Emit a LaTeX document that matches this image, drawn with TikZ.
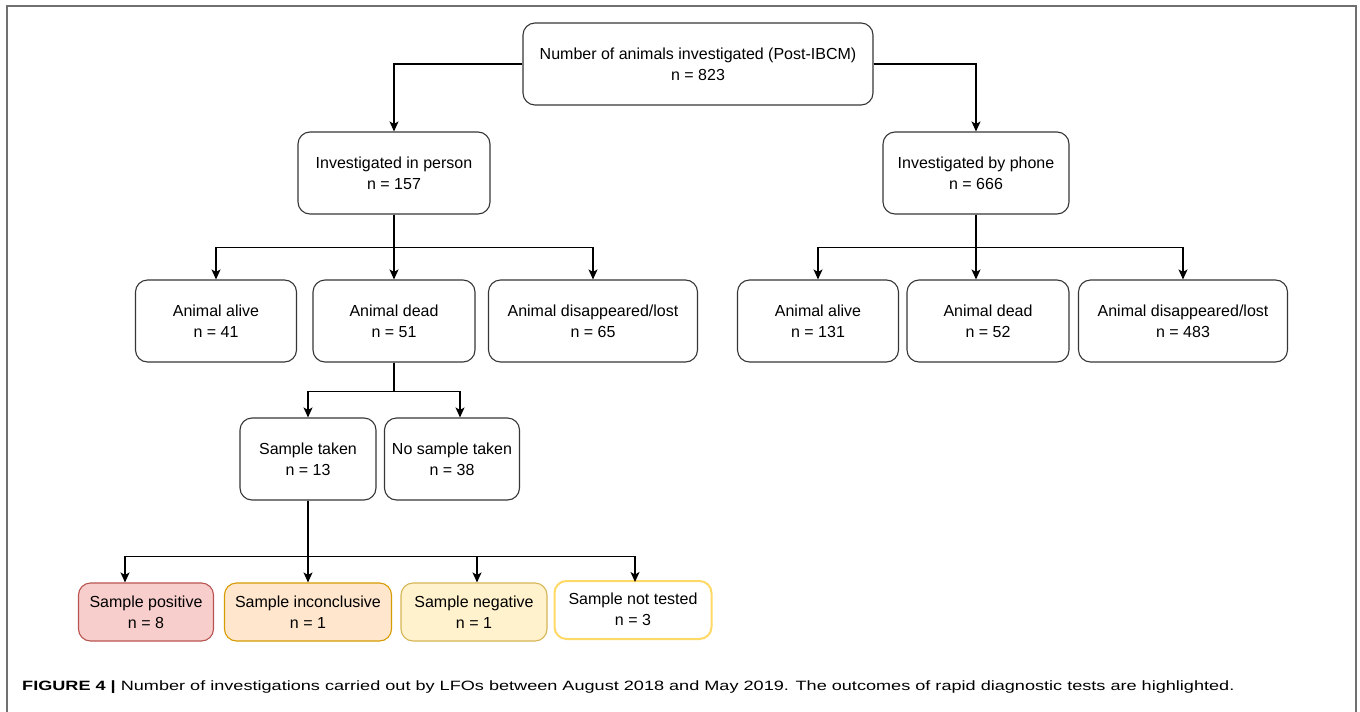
\documentclass[tikz,border=0pt]{standalone}
\usepackage{fontspec}
\setmainfont{Liberation Sans}
\usetikzlibrary{arrows.meta}
\definecolor{posfill}{HTML}{F8CECC}\definecolor{posdraw}{HTML}{B85450}
\definecolor{incfill}{HTML}{FFE6CC}\definecolor{incdraw}{HTML}{D79B00}
\definecolor{negfill}{HTML}{FFF2CC}\definecolor{negdraw}{HTML}{D6B656}
\definecolor{ntdraw}{HTML}{FFD966}
\definecolor{framegray}{HTML}{707070}
\definecolor{boxline}{HTML}{363636}
\begin{document}
\begin{tikzpicture}[x=1pt,y=-1pt,
  box/.style={draw=boxline,line width=1.1pt,rounded corners=12pt,align=center,
    font=\fontsize{16}{21}\selectfont,inner sep=0pt,minimum height=82pt},
  smallbox/.style={box,minimum height=58pt},
  arr/.style={draw=black,line width=1.3pt,-{Stealth[length=10pt,width=9pt,inset=2.5pt]}},
  plain/.style={draw=black,line width=1.3pt}]
\useasboundingbox (0,0) rectangle (1360,712);
\fill[white] (0,0) rectangle (1360,712);
\draw[framegray,line width=2pt] (7,712) -- (7,6) -- (1356,6) -- (1356,712);
% nodes
\node[box,minimum width=350pt] (top) at (698,64) {Number of animals investigated (Post-IBCM)\\n = 823};
\node[box,minimum width=192pt] (inp) at (394,173) {Investigated in person\\n = 157};
\node[box,minimum width=186pt] (ph) at (976,173) {Investigated by phone\\n = 666};
\node[box,minimum width=161pt] (al1) at (216,321) {Animal alive\\n = 41};
\node[box,minimum width=162pt] (de1) at (394,321) {Animal dead\\n = 51};
\node[box,minimum width=209pt] (lo1) at (593,321) {Animal disappeared/lost\\n = 65};
\node[box,minimum width=161pt] (al2) at (818,321) {Animal alive\\n = 131};
\node[box,minimum width=162pt] (de2) at (988,321) {Animal dead\\n = 52};
\node[box,minimum width=209pt] (lo2) at (1183,321) {Animal disappeared/lost\\n = 483};
\node[box,minimum width=136pt] (st) at (308,459) {Sample taken\\n = 13};
\node[box,minimum width=135pt] (ns) at (452,459) {No sample taken\\n = 38};
\node[smallbox,minimum width=135pt,fill=posfill,draw=posdraw] (pos) at (146,612) {Sample positive\\n = 8};
\node[smallbox,minimum width=167pt,fill=incfill,draw=incdraw] (inc) at (308,612) {Sample inconclusive\\n = 1};
\node[smallbox,minimum width=146pt,fill=negfill,draw=negdraw] (neg) at (474,612) {\raisebox{-3pt}{Sample negative}\\\raisebox{-3pt}{n = 1}};
\node[smallbox,minimum width=157pt,draw=ntdraw,line width=2pt] (nt) at (633,610) {\raisebox{2pt}{Sample not tested}\\\raisebox{2pt}{n = 3}};
% connectors
\draw[arr] (top.west) -| (inp.north);
\draw[arr] (top.east) -| (ph.north);
\draw[arr] (inp.south) -- ++(0,33) -| (al1.north);
\draw[arr] (inp.south) -- (de1.north);
\draw[arr] (inp.south) -- ++(0,33) -| (lo1.north);
\draw[arr] (ph.south) -- ++(0,33) -| (al2.north);
\draw[arr] (ph.south) -- (ph.south |- de2.north);
\draw[arr] (ph.south) -- ++(0,33) -| (lo2.north);
\draw[arr] (de1.south) -- ++(0,29) -| (st.north);
\draw[arr] (de1.south) -- ++(0,29) -| ([xshift=8pt]ns.north);
\draw[arr] (st.south) -- ++(0,56) -| ([xshift=-21pt]pos.north);
\draw[arr] (st.south) -- (inc.north);
\draw[arr] (st.south) -- ++(0,56) -| ([xshift=3pt]neg.north);
\draw[arr] (st.south) -- ++(0,56) -| ([xshift=2pt,yshift=-2pt]nt.north);
% caption
\node[anchor=west,inner sep=0pt,font=\fontsize{13.5}{16}\selectfont] (cap) at (22,687)
  {\scalebox{1.341}[1]{\textbf{FIGURE 4 |} Number of investigations carried out by LFOs between August 2018 and May 2019. The outcomes of rapid diagnostic tests are highlighted.}};
\end{tikzpicture}
\end{document}
